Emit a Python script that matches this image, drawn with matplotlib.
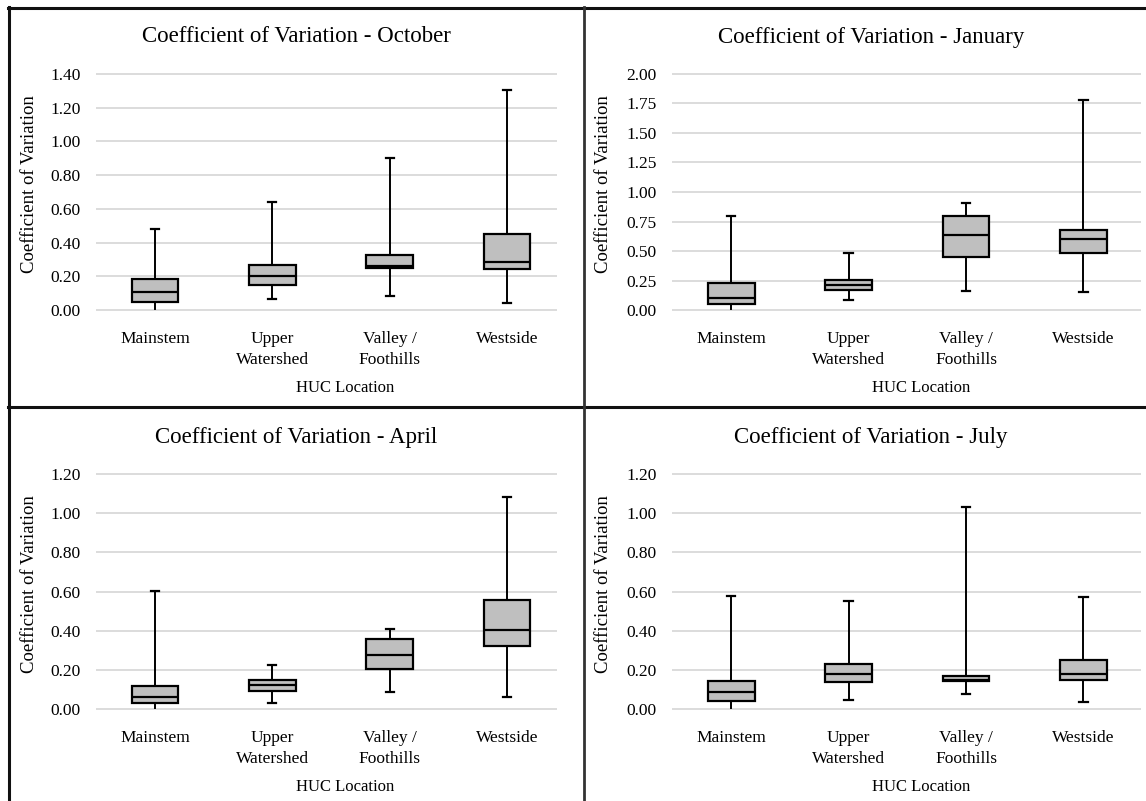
import matplotlib.pyplot as plt
from matplotlib.lines import Line2D

W, H = 1146, 801

locations = ["Mainstem", "Upper\nWatershed", "Valley /\nFoothills", "Westside"]

# five-number summaries per HUC location
oct_min = [0.005, 0.066, 0.082, 0.041]
oct_q1 = [0.045, 0.150, 0.248, 0.244]
oct_med = [0.107, 0.203, 0.263, 0.283]
oct_q3 = [0.185, 0.269, 0.326, 0.448]
oct_max = [0.478, 0.643, 0.903, 1.304]

jan_min = [0.008, 0.086, 0.159, 0.153]
jan_q1 = [0.050, 0.173, 0.451, 0.487]
jan_med = [0.100, 0.214, 0.635, 0.602]
jan_q3 = [0.228, 0.256, 0.797, 0.682]
jan_max = [0.800, 0.487, 0.905, 1.777]

apr_min = [0.005, 0.033, 0.089, 0.059]
apr_q1 = [0.033, 0.094, 0.206, 0.323]
apr_med = [0.062, 0.122, 0.276, 0.402]
apr_q3 = [0.117, 0.146, 0.360, 0.556]
apr_max = [0.601, 0.223, 0.410, 1.081]

jul_min = [0.005, 0.045, 0.077, 0.037]
jul_q1 = [0.042, 0.137, 0.141, 0.146]
jul_med = [0.089, 0.179, 0.147, 0.181]
jul_q3 = [0.142, 0.231, 0.171, 0.249]
jul_max = [0.579, 0.552, 1.033, 0.574]

months = ["October", "January", "April", "July"]
y_max = [1.4, 2.0, 1.2, 1.2]
y_step = [0.2, 0.25, 0.2, 0.2]

SERIF = ["Liberation Serif", "DejaVu Serif"]
plt.rcParams["font.family"] = SERIF


def rect(left, right, top, bottom):
    return [left / W, 1 - bottom / H, (right - left) / W, (bottom - top) / H]


def make_stats(lo, q1, med, q3, hi):
    return [
        dict(whislo=a, q1=b, med=c, q3=d, whishi=e, fliers=[])
        for a, b, c, d, e in zip(lo, q1, med, q3, hi)
    ]


data = [
    make_stats(oct_min, oct_q1, oct_med, oct_q3, oct_max),
    make_stats(jan_min, jan_q1, jan_med, jan_q3, jan_max),
    make_stats(apr_min, apr_q1, apr_med, apr_q3, apr_max),
    make_stats(jul_min, jul_q1, jul_med, jul_q3, jul_max),
]

# pixel layout of each panel: axes box, panel centre, x label centre
panels = [
    dict(ax=(96, 557, 72, 312), xr=4.426, cx=296, ty=37, lx=30, ly=184, hx=345),
    dict(ax=(672, 1141, 72, 312), xr=4.49, cx=871, ty=37, lx=604, ly=184, hx=921),
    dict(ax=(96, 557, 472, 711), xr=4.426, cx=296, ty=437, lx=30, ly=584, hx=345),
    dict(ax=(672, 1141, 472, 711), xr=4.49, cx=871, ty=437, lx=604, ly=584, hx=921),
]

fig = plt.figure(figsize=(W / 100, H / 100), dpi=100)

for i, p in enumerate(panels):
    l, r, t, b = p["ax"]
    ax = fig.add_axes(rect(l, r, t, b))
    top = y_max[i]
    pad = top * 2 / (b - t)
    ticks = [k * y_step[i] for k in range(int(round(top / y_step[i])) + 1)]
    ax.set_ylim(-pad, top + pad)
    ax.set_yticks(ticks)
    ax.set_yticklabels([f"{v:.2f}" for v in ticks], fontsize=12.5)
    ax.set_xlim(0.497, p["xr"])
    ax.yaxis.grid(True, color="#d9d9d9", linewidth=1.3)
    ax.set_axisbelow(True)
    for s in ax.spines.values():
        s.set_visible(False)

    res = ax.bxp(
        data[i],
        positions=[1, 2, 3, 4],
        widths=0.40,
        capwidths=0.07,
        patch_artist=True,
        showfliers=False,
        boxprops=dict(facecolor="#bfbfbf", edgecolor="black", linewidth=1.6),
        medianprops=dict(color="black", linewidth=1.6),
        whiskerprops=dict(color="black", linewidth=1.4),
        capprops=dict(color="black", linewidth=1.6),
    )
    # lower caps sitting on the zero line are not visible in the original
    for j, st in enumerate(data[i]):
        if st["whislo"] < 0.01:
            res["caps"][2 * j].set_visible(False)

    ax.set_xticks([1, 2, 3, 4])
    ax.set_xticklabels(locations, fontsize=12.5, linespacing=1.35, va="top")
    ax.tick_params(axis="both", length=0)
    ax.tick_params(axis="x", pad=14)
    ax.tick_params(axis="y", pad=11)

    fig.text(p["cx"] / W, 1 - p["ty"] / H,
             f"Coefficient of Variation - {months[i]}",
             fontsize=16.5, ha="center", va="center")
    fig.text(p["lx"] / W, 1 - p["ly"] / H, "Coefficient of Variation",
             fontsize=13.5, rotation=90, ha="center", va="center")
    fig.text(p["hx"] / W, 1 - (b + 76) / H, "HUC Location",
             fontsize=12, ha="center", va="center")

# panel borders
def fig_line(x0, y0, x1, y1, color="#111111", lw=2.2):
    fig.add_artist(Line2D([x0 / W, x1 / W], [1 - y0 / H, 1 - y1 / H],
                          color=color, linewidth=lw, transform=fig.transFigure))


fig_line(8, 7.5, W, 7.5)
fig_line(8.5, 7, 8.5, H)
fig_line(8, 406.5, W, 406.5)
fig_line(583.7, 7, 583.7, H, color="#333333", lw=2.0)

fig.savefig("out.png", dpi=100)
